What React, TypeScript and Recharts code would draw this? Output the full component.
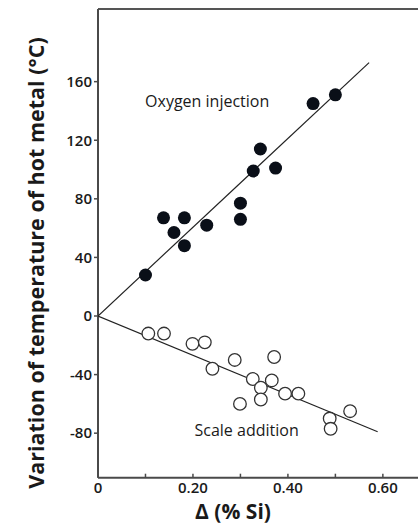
import React from "react";
import {
  ScatterChart,
  Scatter,
  XAxis,
  YAxis,
  ReferenceLine,
  ReferenceDot,
} from "recharts";

// Δ(%Si) vs temperature change (°C)
const oxygenSi = [0.1, 0.138, 0.16, 0.182, 0.182, 0.229, 0.3, 0.3, 0.327, 0.342, 0.374, 0.453, 0.5];
const oxygenTemp = [28, 67, 57, 67, 48, 62, 77, 66, 99, 114, 101, 145, 151];

const scaleSi = [0.106, 0.139, 0.199, 0.225, 0.241, 0.288, 0.299, 0.326, 0.343, 0.343, 0.366, 0.371, 0.394, 0.422, 0.488, 0.49, 0.531];
const scaleTemp = [-12, -12, -19, -18, -36, -30, -60, -43, -49, -57, -44, -28, -53, -53, -70, -77, -65];

// fitted trend lines (end points)
const oxygenFitSi = [0, 0.571];
const oxygenFitTemp = [0, 173];
const scaleFitSi = [0, 0.589];
const scaleFitTemp = [0, -79];

const xTicks = [0, 0.1, 0.2, 0.3, 0.4, 0.5, 0.6];
const xTickLabels: Record<string, string> = { "0": "0", "0.2": "0.20", "0.4": "0.40", "0.6": "0.60" };
const yTicks = [-80, -40, 0, 40, 80, 120, 160];

const X_DOMAIN: [number, number] = [0, 0.674];
const Y_DOMAIN: [number, number] = [-110.4, 209.6];

const zip = (xs: number[], ys: number[]) => xs.map((x, i) => ({ x, y: ys[i] }));

const oxygenData = zip(oxygenSi, oxygenTemp);
const scaleData = zip(scaleSi, scaleTemp);
const oxygenFit = zip(oxygenFitSi, oxygenFitTemp);
const scaleFit = zip(scaleFitSi, scaleFitTemp);

const FONT = "'Open Sans', 'Noto Sans', sans-serif";
const AXIS = "#4a4a4a";
const INK = "#1a1a1a";

const FilledDot = (p: any) => <circle cx={p.cx} cy={p.cy} r={6.5} fill="#0a0f18" />;
const OpenDot = (p: any) => (
  <circle cx={p.cx} cy={p.cy} r={6.3} fill="#fff" stroke="#333" strokeWidth={1.3} />
);
const NoDot = () => <g />;

const YTitle = () => (
  <text
    x={35}
    y={263}
    transform="rotate(-90 35 263)"
    textAnchor="middle"
    dominantBaseline="central"
    fontFamily={FONT}
    fontWeight={700}
    fontSize={21.5}
    fill={INK}
  >
    Variation of temperature of hot metal (°C)
  </text>
);

const XTitle = () => (
  <text
    x={233}
    y={511}
    textAnchor="middle"
    dominantBaseline="central"
    fontFamily={FONT}
    fontWeight={700}
    fontSize={21}
    fill={INK}
  >
    Δ (% Si)
  </text>
);

export default function App() {
  return (
    <div style={{ position: "absolute", left: 0, top: 0, background: "#fff" }}>
      <ScatterChart width={418} height={525} margin={{ top: 9, right: 0, bottom: 0, left: 0 }}>
        <XAxis
          type="number"
          dataKey="x"
          domain={X_DOMAIN}
          ticks={xTicks}
          interval={0}
          allowDataOverflow
          tickFormatter={(v) => xTickLabels[String(Math.round(v * 10) / 10)] ?? ""}
          height={47.3}
          tickSize={-4}
          tickMargin={9}
          stroke={AXIS}
          axisLine={{ stroke: AXIS, strokeWidth: 2 }}
          tickLine={{ stroke: AXIS, strokeWidth: 1.5 }}
          tick={{ fill: INK, fontSize: 15, fontWeight: 600, fontFamily: FONT }}
          label={{ content: XTitle }}
        />
        <YAxis
          type="number"
          dataKey="y"
          domain={Y_DOMAIN}
          ticks={yTicks}
          interval={0}
          allowDataOverflow
          width={98}
          tickSize={4}
          tickMargin={2}
          axisLine={{ stroke: AXIS, strokeWidth: 2 }}
          tickLine={{ stroke: AXIS, strokeWidth: 1.5 }}
          tick={{ fill: INK, fontSize: 15, fontWeight: 600, fontFamily: FONT }}
          label={{ content: YTitle }}
        />
        <ReferenceLine y={Y_DOMAIN[1]} stroke="#555" strokeWidth={2} ifOverflow="extendDomain" />
        <Scatter
          data={oxygenFit}
          line={{ stroke: "#222", strokeWidth: 1.2 }}
          shape={NoDot}
          isAnimationActive={false}
        />
        <Scatter
          data={scaleFit}
          line={{ stroke: "#222", strokeWidth: 1.2 }}
          shape={NoDot}
          isAnimationActive={false}
        />
        <Scatter data={oxygenData} shape={FilledDot} isAnimationActive={false} />
        <Scatter data={scaleData} shape={OpenDot} isAnimationActive={false} />
        <ReferenceDot
          x={0.23}
          y={146.8}
          r={0}
          label={{
            value: "Oxygen injection",
            position: "center",
            fill: INK,
            fontSize: 16,
            fontFamily: FONT,
          }}
        />
        <ReferenceDot
          x={0.313}
          y={-77.8}
          r={0}
          label={{
            value: "Scale addition",
            position: "center",
            fill: INK,
            fontSize: 16,
            fontFamily: FONT,
          }}
        />
      </ScatterChart>
    </div>
  );
}
